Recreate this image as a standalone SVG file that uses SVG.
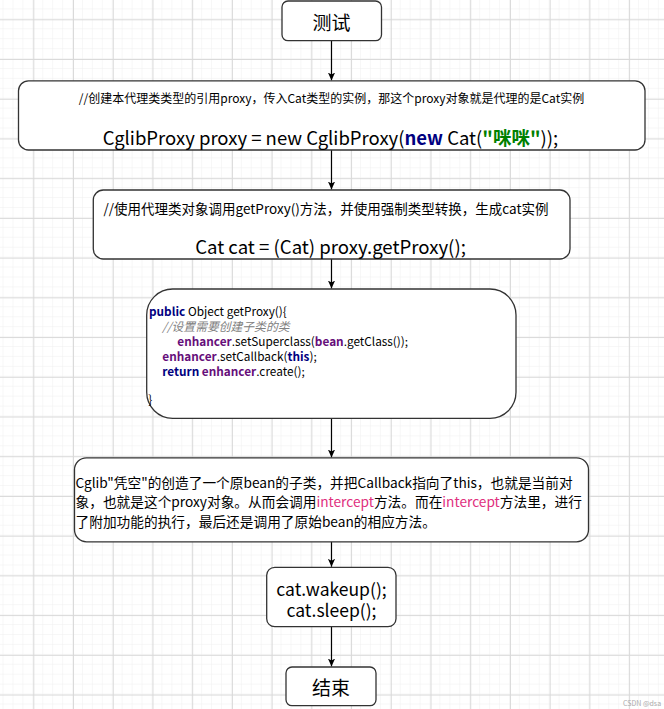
<svg xmlns="http://www.w3.org/2000/svg" width="664" height="709" viewBox="0 0 664 709">
<defs>
<pattern id="minor" width="9.93" height="9.93" patternUnits="userSpaceOnUse" x="3.51" y="-0.56">
<path d="M9.93 0 V9.93 M0 9.93 H9.93" fill="none" stroke="#efefef" stroke-width="1"/>
</pattern>
<pattern id="major" width="39.72" height="39.72" patternUnits="userSpaceOnUse" x="33.3" y="19.3">
<path d="M0.5 0 V39.72 M0 0.5 H39.72" fill="none" stroke="#d9d9d9" stroke-width="1"/>
</pattern>
<marker id="arr" viewBox="0 0 10 10" refX="10" refY="5" markerWidth="8" markerHeight="9" markerUnits="userSpaceOnUse" orient="auto">
<path d="M0,0.5 L10,5 L0,9.5 L2.5,5 z" fill="#000"/>
</marker>
<style>
.box{fill:#fff;stroke:#333;stroke-width:1.3}
.t{font-family:"Noto Sans CJK SC","Noto Sans",sans-serif;fill:#000}
.c{text-anchor:middle;dominant-baseline:central}
.kw{fill:#000080;font-weight:bold}
.str{fill:#008000;font-weight:bold}
.fld{fill:#660e7a;font-weight:bold}
.cm{fill:#808080;font-style:italic}
.pk{fill:#e0307e}
.edge{stroke:#000;stroke-width:1.2;fill:none;marker-end:url(#arr)}
</style>
</defs>
<rect width="664" height="709" fill="#fff"/>
<rect width="664" height="709" fill="url(#minor)"/>
<rect width="664" height="709" fill="url(#major)"/>

<g id="connectors">
<line class="edge" x1="331.5" y1="40.7" x2="331.5" y2="80.5"/>
<line class="edge" x1="331.5" y1="150" x2="331.5" y2="189.5"/>
<line class="edge" x1="331.5" y1="259" x2="331.5" y2="288.5"/>
<line class="edge" x1="331.5" y1="418.3" x2="331.5" y2="457.5"/>
<line class="edge" x1="331.5" y1="541.7" x2="331.5" y2="566.8"/>
<line class="edge" x1="331.5" y1="626.7" x2="331.5" y2="666.5"/>
</g>

<g id="n-start">
<rect class="box" x="282" y="1" width="99.5" height="39.7" rx="6"/>
<text class="t c" x="331.5" y="21" font-size="19">测试</text>
</g>

<g id="n-create">
<rect class="box" x="18.5" y="80.8" width="626.5" height="69.2" rx="10"/>
<text class="t c" x="331.5" y="97" font-size="12">//创建本代理类类型的引用proxy，传入Cat类型的实例，那这个proxy对象就是代理的是Cat实例</text>
<text class="t c" x="330.5" y="136.5" font-size="18.5">CglibProxy proxy = new CglibProxy(<tspan class="kw">new</tspan> Cat(<tspan class="str">"咪咪"</tspan>));</text>
</g>

<g id="n-getproxy">
<rect class="box" x="93.3" y="190" width="476.7" height="69" rx="10"/>
<text class="t c" x="326" y="208" font-size="13.5">//使用代理类对象调用getProxy()方法，并使用强制类型转换，生成cat实例</text>
<text class="t c" x="330.5" y="245.5" font-size="18.6">Cat cat = (Cat) proxy.getProxy();</text>
</g>

<g id="n-code">
<rect class="box" x="146.7" y="289" width="369.3" height="129.3" rx="26"/>
<text class="t" font-size="11.8" dominant-baseline="central">
<tspan x="149" y="309.5"><tspan class="kw">public</tspan> Object getProxy(){</tspan>
<tspan x="162.3" y="324.5" class="cm">//设置需要创建子类的类</tspan>
<tspan x="177.3" y="339.5"><tspan class="fld">enhancer</tspan>.setSuperclass(<tspan class="fld">bean</tspan>.getClass());</tspan>
<tspan x="162.3" y="355"><tspan class="fld">enhancer</tspan>.setCallback(<tspan class="kw">this</tspan>);</tspan>
<tspan x="162.3" y="369.5"><tspan class="kw">return</tspan> <tspan class="fld">enhancer</tspan>.create();</tspan>
<tspan x="148.3" y="397.7">}</tspan>
</text>
</g>

<g id="n-explain">
<rect class="box" x="74.5" y="457.8" width="514" height="84" rx="12"/>
<text class="t" font-size="13.7" dominant-baseline="central">
<tspan x="75.5" y="482">Cglib"凭空"的创造了一个原bean的子类，并把Callback指向了this，也就是当前对</tspan>
<tspan x="75.5" y="501">象，也就是这个proxy对象。从而会调用<tspan class="pk">intercept</tspan>方法。而在<tspan class="pk">intercept</tspan>方法里，进行</tspan>
<tspan x="75.5" y="521">了附加功能的执行，最后还是调用了原始bean的相应方法。</tspan>
</text>
</g>

<g id="n-call">
<rect class="box" x="266.7" y="567.3" width="129.3" height="59.4" rx="8"/>
<text class="t c" x="331.5" y="588.5" font-size="17.5">cat.wakeup();</text>
<text class="t c" x="331.5" y="609.5" font-size="17.5">cat.sleep();</text>
</g>

<g id="n-end">
<rect class="box" x="286" y="667" width="90" height="38.7" rx="6"/>
<text class="t c" x="331" y="686.5" font-size="19">结束</text>
</g>

<text class="t" x="623" y="705.5" font-size="7" style="fill:#aaaaaa">CSDN @dsa</text>
</svg>
